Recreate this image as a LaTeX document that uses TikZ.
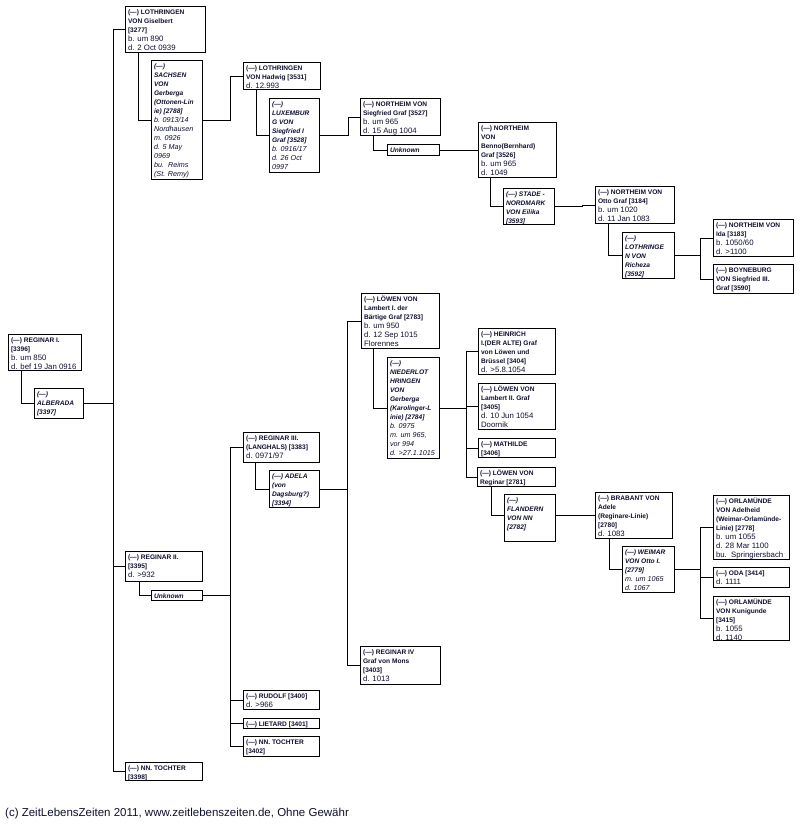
\documentclass[tikz,border=0pt]{standalone}
\usepackage{fontspec}
\setmainfont{Liberation Sans}
\usetikzlibrary{calc}
\definecolor{txt}{HTML}{101030}
\newcommand\nm{\fontsize{6.6}{9}\selectfont\bfseries\upshape}
\newcommand\dt{\fontsize{7.8}{9}\selectfont\mdseries\upshape}
\newcommand\snm{\fontsize{6.6}{9}\selectfont\bfseries\itshape}
\newcommand\sdt{\fontsize{7.2}{9}\selectfont\mdseries\itshape}
\tikzset{
  famb/.style={draw, line width=1.1pt, fill=white, inner xsep=2.5pt, inner ysep=0pt, anchor=north west, text=txt},
  ln/.style={line width=0.9pt}
}
\newcommand\fambox[6]{\node[famb] (#1) at (#2,#3) {\parbox[c][#5pt][t]{\dimexpr#4pt-5pt\relax}{\fontsize{7}{9}\selectfont\parskip=0pt\raggedright\hyphenpenalty=10000\exhyphenpenalty=10000\rule{0pt}{8pt}#6\par}};}
\begin{document}
\begin{tikzpicture}[x=1pt,y=-1pt]
\useasboundingbox (0,0) rectangle (811,824);
% boxes
\fambox{gisl}{125}{6}{80}{46}{{\nm (---) LOTHRINGEN\\VON Giselbert\\{}[3277]\\}{\dt b. um 890\\d. 2 Oct 0939}}
\fambox{sachsen}{151}{60}{51}{119}{{\snm (---)\\SACHSEN\\VON\\Gerberga\\(Ottonen-Lin\\ie) [2788]\\}{\sdt b. 0913/14\\Nordhausen\\m. 0926\\d. 5 May\\0969\\bu.\ \ Reims\\(St. Remy)}}
\fambox{hadwig}{243}{62}{77}{27}{{\nm (---) LOTHRINGEN\\VON Hadwig [3531]\\}{\dt d. 12.993}}
\fambox{luxem}{269}{98}{50}{74}{{\snm (---)\\LUXEMBUR\\G VON\\Siegfried I\\Graf [3528]\\}{\sdt b. 0916/17\\d. 26 Oct\\0997}}
\fambox{nsieg}{360}{98}{80}{37}{{\nm (---) NORTHEIM VON\\Siegfried Graf [3527]\\}{\dt b. um 965\\d. 15 Aug 1004}}
\fambox{unka}{387}{144}{52}{11}{{\snm Unknown}}
\fambox{benno}{478}{122}{78}{55}{{\nm (---) NORTHEIM\\VON\\Benno(Bernhard)\\Graf [3526]\\}{\dt b. um 965\\d. 1049}}
\fambox{eilika}{503}{188}{51}{36}{{\snm (---) STADE -\\NORDMARK\\VON Eilika\\{}[3593]}}
\fambox{otto}{595}{186}{79}{37}{{\nm (---) NORTHEIM VON\\Otto Graf [3184]\\}{\dt b. um 1020\\d. 11 Jan 1083}}
\fambox{richeza}{622}{232}{52}{46}{{\snm (---)\\LOTHRINGE\\N VON\\Richeza\\{}[3592]}}
\fambox{ida}{713}{219}{80}{37}{{\nm (---) NORTHEIM VON\\Ida [3183]\\}{\dt b. 1050/60\\d. >1100}}
\fambox{boyne}{713}{264}{80}{29}{{\nm (---) BOYNEBURG\\VON Siegfried III.\\Graf [3590]}}
\fambox{regA}{8}{334}{73}{36}{{\nm (---) REGINAR I.\\{}[3396]\\}{\dt b. um 850\\d. bef 19 Jan 0916}}
\fambox{alberada}{34}{388}{49}{30}{{\snm (---)\\ALBERADA\\{}[3397]}}
\fambox{regB}{125}{551}{77}{30}{{\nm (---) REGINAR II.\\{}[3395]\\}{\dt d. >932}}
\fambox{unkb}{151}{590}{51}{10}{{\snm Unknown}}
\fambox{regC}{243}{432}{76}{30}{{\nm (---) REGINAR III.\\(LANGHALS) [3383]\\}{\dt d. 0971/97}}
\fambox{adela}{269}{470}{50}{37}{{\snm (---) ADELA\\(von\\Dagsburg?)\\{}[3394]}}
\fambox{rudolf}{243}{690}{76}{19}{{\nm (---) RUDOLF [3400]\\}{\dt d. >966}}
\fambox{lietard}{243}{718}{76}{10}{{\nm (---) LIETARD [3401]}}
\fambox{nntb}{243}{736}{76}{20}{{\nm (---) NN. TOCHTER\\{}[3402]}}
\fambox{regD}{360}{646}{80}{38}{{\nm (---) REGINAR IV\\Graf von Mons\\{}[3403]\\}{\dt d. 1013}}
\fambox{nnta}{125}{762}{77}{18}{{\nm (---) NN. TOCHTER\\{}[3398]}}
\fambox{lambA}{361}{293}{78}{55}{{\nm (---) LÖWEN VON\\Lambert I. der\\Bärtige Graf [2783]\\}{\dt b. um 950\\d. 12 Sep 1015\\Florennes}}
\fambox{gerbnl}{387}{357}{52}{101}{{\snm (---)\\NIEDERLOT\\HRINGEN\\VON\\Gerberga\\(Karolinger-L\\inie) [2784]\\}{\sdt b. 0975\\m. um 965,\\vor 994\\d. >27.1.1015}}
\fambox{heinrich}{478}{328}{77}{46}{{\nm (---) HEINRICH\\I.(DER ALTE) Graf\\von Löwen und\\Brüssel [3404]\\}{\dt d. >5.8.1054}}
\fambox{lambB}{478}{383}{77}{46}{{\nm (---) LÖWEN VON\\Lambert II. Graf\\{}[3405]\\}{\dt d. 10 Jun 1054\\Doornik}}
\fambox{mathilde}{478}{438}{77}{19}{{\nm (---) MATHILDE\\{}[3406]}}
\fambox{lreg}{477}{467}{78}{19}{{\nm (---) LÖWEN VON\\Reginar [2781]}}
\fambox{flandern}{504}{494}{51}{47}{{\snm (---)\\FLANDERN\\VON NN\\{}[2782]}}
\fambox{brabant}{595}{492}{77}{46}{{\nm (---) BRABANT VON\\Adele\\(Reginare-Linie)\\{}[2780]\\}{\dt d. 1083}}
\fambox{weimar}{622}{546}{52}{46}{{\snm (---) WEIMAR\\VON Otto I.\\{}[2779]\\}{\sdt m. um 1065\\d. 1067}}
\fambox{adelheid}{713}{495}{76}{64}{{\nm (---) ORLAMÜNDE\\VON Adelheid\\(Weimar-Orlamünde-\\Linie) [2778]\\}{\dt b. um 1055\\d. 28 Mar 1100\\bu.\ \ Springiersbach}}
\fambox{oda}{713}{567}{76}{20}{{\nm (---) ODA [3414]\\}{\dt d. 1111}}
\fambox{kunig}{713}{596}{76}{44}{{\nm (---) ORLAMÜNDE\\VON Kunigunde\\{}[3415]\\}{\dt b. 1055\\d. 1140}}
% bus coordinates
\coordinate (bA) at (113,0);
\coordinate (bB) at (230,0);
\coordinate (bC) at (348,0);
\coordinate (bD) at (466,0);
\coordinate (bE) at (582,0);
\coordinate (bF) at (700,0);
\coordinate (bG) at (347,0);
% Reginar I family
\draw[ln] ($(regA.south west)+(13,0)$) |- (alberada.west);
\draw[ln] (alberada.east) -- (alberada.east -| bA);
\draw[ln] (bA |- gisl.west) -- (bA |- nnta.west);
\foreach \c in {gisl,regB,nnta} \draw[ln] (bA |- \c.west) -- (\c.west);
% Giselbert line
\draw[ln] ($(gisl.south west)+(13,0)$) |- (sachsen.west);
\draw[ln] (sachsen.east) -| (bB |- hadwig.west) -- (hadwig.west);
\draw[ln] ($(hadwig.south west)+(13,0)$) |- (luxem.west);
\draw[ln] (luxem.east) -| (bC |- nsieg.west) -- (nsieg.west);
\draw[ln] ($(nsieg.south west)+(13,0)$) |- (unka.west);
\draw[ln] (unka.east) -| (bD |- benno.west) -- (benno.west);
\draw[ln] ($(benno.south west)+(12,0)$) |- (eilika.west);
\draw[ln] (eilika.east) -| (bE |- otto.west) -- (otto.west);
\draw[ln] ($(otto.south west)+(13,0)$) |- (richeza.west);
\draw[ln] (richeza.east) -- (richeza.east -| bF);
\draw[ln] (bF |- ida.west) -- (bF |- boyne.west);
\foreach \c in {ida,boyne} \draw[ln] (bF |- \c.west) -- (\c.west);
% Reginar II line
\draw[ln] ($(regB.south west)+(14,0)$) |- (unkb.west);
\draw[ln] (unkb.east) -- (unkb.east -| bB);
\draw[ln] (bB |- regC.west) -- (bB |- nntb.west);
\foreach \c in {regC,rudolf,lietard,nntb} \draw[ln] (bB |- \c.west) -- (\c.west);
\draw[ln] ($(regC.south west)+(12,0)$) |- (adela.west);
\draw[ln] (adela.east) -- (adela.east -| bG);
\draw[ln] (bG |- lambA.west) -- (bG |- regD.west);
\foreach \c in {lambA,regD} \draw[ln] (bG |- \c.west) -- (\c.west);
\draw[ln] ($(lambA.south west)+(12,0)$) |- (gerbnl.west);
\draw[ln] (gerbnl.east) -- (gerbnl.east -| bD);
\draw[ln] (bD |- heinrich.west) -- (bD |- lreg.west);
\foreach \c in {heinrich,lambB,mathilde,lreg} \draw[ln] (bD |- \c.west) -- (\c.west);
\draw[ln] ($(lreg.south west)+(14,0)$) |- (flandern.west |- brabant.west);
\draw[ln] (flandern.east |- brabant.west) -- (brabant.west);
\draw[ln] ($(brabant.south west)+(14,0)$) |- (weimar.west);
\draw[ln] (weimar.east) -- (weimar.east -| bF);
\draw[ln] (bF |- adelheid.west) -- (bF |- kunig.west);
\foreach \c in {adelheid,oda,kunig} \draw[ln] (bF |- \c.west) -- (\c.west);
% footer
\node[anchor=base west, inner sep=0pt, text=txt, font=\fontsize{11.5}{13}\selectfont] (foot) at (5,816) {(c) ZeitLebensZeiten 2011, www.zeitlebenszeiten.de, Ohne Gewähr};
\end{tikzpicture}
\end{document}
